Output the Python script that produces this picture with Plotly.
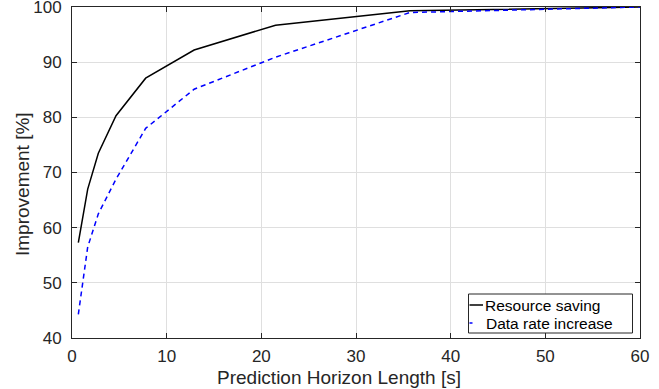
import plotly.graph_objects as go

horizon = [0.67, 1.66, 2.78, 4.65, 7.78, 12.9, 21.5, 35.7, 60]
resource_saving = [57.3, 67.0, 73.5, 80.3, 87.1, 92.2, 96.7, 99.3, 100.0]
data_rate_increase = [44.3, 56.5, 62.5, 68.8, 78.0, 85.1, 90.9, 99.0, 100.0]

x_ticks = [0, 10, 20, 30, 40, 50, 60]
y_ticks = [40, 50, 60, 70, 80, 90, 100]

series_names = ["Resource saving", "Data rate increase"]
x_title = "Prediction Horizon Length [s]"
y_title = "Improvement [%]"

font_family = "Liberation Sans, Arial, Helvetica, sans-serif"
axis_color = "#262626"

# plot area geometry in pixels
W, H = 659, 389
L, R, T, B = 72, 19, 7, 51
pw, ph = W - L - R, H - T - B


def px_x(p):
    return (p - L) / pw


def px_y(p):
    return (H - B - p) / ph


fig = go.Figure()
fig.add_trace(go.Scatter(x=horizon, y=resource_saving, mode="lines",
                         name=series_names[0], showlegend=False,
                         line=dict(color="black", width=1.5)))
fig.add_trace(go.Scatter(x=horizon, y=data_rate_increase, mode="lines",
                         name=series_names[1], showlegend=False,
                         line=dict(color="blue", width=1.5, dash="5px,4px")))

axis_common = dict(showline=True, linecolor=axis_color, linewidth=1, mirror="ticks",
                   ticks="inside", ticklen=5, tickcolor=axis_color,
                   showgrid=True, gridcolor="#dfdfdf", gridwidth=1, zeroline=False,
                   ticklabeloverflow="allow", automargin=False,
                   tickfont=dict(family=font_family, size=17, color=axis_color))

# legend box drawn in paper coordinates (MATLAB-style compact legend)
leg_l, leg_r, leg_t, leg_b = 468.5, 632.5, 294, 333
rows_y = [305, 323]
shapes = [
    dict(type="rect", xref="paper", yref="paper",
         x0=px_x(leg_l), x1=px_x(leg_r), y0=px_y(leg_b), y1=px_y(leg_t),
         fillcolor="white", line=dict(color=axis_color, width=1), layer="above"),
    dict(type="line", xref="paper", yref="paper",
         x0=px_x(469.5), x1=px_x(483), y0=px_y(rows_y[0]), y1=px_y(rows_y[0]),
         line=dict(color="black", width=1.5), layer="above"),
    dict(type="line", xref="paper", yref="paper",
         x0=px_x(469.5), x1=px_x(472.5), y0=px_y(rows_y[1]), y1=px_y(rows_y[1]),
         line=dict(color="blue", width=1.5), layer="above"),
]

annotations = [
    dict(text=x_title, xref="paper", yref="paper", x=px_x(339),
         y=px_y(377), xanchor="center", yanchor="middle",
         showarrow=False, font=dict(family=font_family, size=19, color=axis_color)),
    dict(text=y_title, xref="paper", yref="paper", x=px_x(22),
         y=px_y(184), xanchor="center", yanchor="middle", textangle=-90,
         showarrow=False, font=dict(family=font_family, size=19, color=axis_color)),
]
for name, ry, tx in zip(series_names, rows_y, [483.5, 485]):
    annotations.append(dict(text=name, xref="paper", yref="paper", x=px_x(tx),
                            y=px_y(ry), xanchor="left", yanchor="middle",
                            showarrow=False, borderpad=0,
                            font=dict(family=font_family, size=15.5, color="black")))

fig.update_layout(
    width=W, height=H,
    margin=dict(l=L, r=R, t=T, b=B, autoexpand=False),
    paper_bgcolor="white", plot_bgcolor="white",
    font=dict(family=font_family, color=axis_color),
    xaxis=dict(range=[0, 60], tickvals=x_ticks, ticklabelstandoff=3, **axis_common),
    yaxis=dict(range=[40, 100], tickvals=y_ticks, ticklabelstandoff=6, **axis_common),
    showlegend=False,
    shapes=shapes,
    annotations=annotations,
)

fig.write_html("out.html")
